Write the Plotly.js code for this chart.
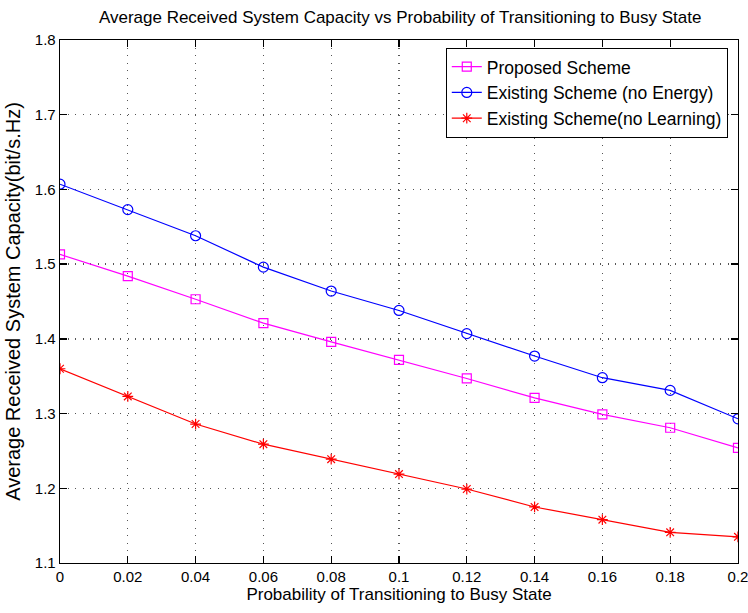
<!DOCTYPE html>
<html>
<head>
<meta charset="utf-8">
<script src="https://cdn.plot.ly/plotly-3.0.1.min.js"></script>
<style>html,body{margin:0;padding:0;background:#fff;}#chart{width:748px;height:613px;}</style>
</head>
<body>
<div id="chart"></div>
<script>
var probability = [0, 0.02, 0.04, 0.06, 0.08, 0.1, 0.12, 0.14, 0.16, 0.18, 0.2];
var proposedScheme = [1.513, 1.484, 1.453, 1.421, 1.396, 1.372, 1.347, 1.321, 1.299, 1.281, 1.254];
var existingNoEnergy = [1.607, 1.573, 1.538, 1.496, 1.464, 1.438, 1.407, 1.377, 1.348, 1.331, 1.293];
var existingNoLearning = [1.360, 1.323, 1.286, 1.259, 1.239, 1.219, 1.199, 1.175, 1.158, 1.141, 1.135];
var xTickVals = [0, 0.02, 0.04, 0.06, 0.08, 0.1, 0.12, 0.14, 0.16, 0.18, 0.2];
var xTickText = ['0', '0.02', '0.04', '0.06', '0.08', '0.1', '0.12', '0.14', '0.16', '0.18', '0.2'];
var yTickVals = [1.1, 1.2, 1.3, 1.4, 1.5, 1.6, 1.7, 1.8];
var yTickText = ['1.1', '1.2', '1.3', '1.4', '1.5', '1.6', '1.7', '1.8'];

var narrow = '"Liberation Sans Narrow", "Arial Narrow", "Liberation Sans", Arial, sans-serif';
var regular = '"Liberation Sans", Arial, Helvetica, sans-serif';

var traces = [
  {x: probability, y: proposedScheme, name: 'Proposed Scheme', type: 'scatter', mode: 'lines+markers',
   line: {color: '#ff00ff', width: 1.2}, marker: {symbol: 'square-open', size: 9, color: '#ff00ff', line: {width: 1.2}}},
  {x: probability, y: existingNoEnergy, name: 'Existing Scheme (no Energy)', type: 'scatter', mode: 'lines+markers',
   line: {color: '#0000ff', width: 1.2}, marker: {symbol: 'circle-open', size: 10, color: '#0000ff', line: {width: 1.2}}},
  {x: probability, y: existingNoLearning, name: 'Existing Scheme(no Learning)', type: 'scatter', mode: 'lines+markers',
   line: {color: '#ff0000', width: 1.2}, marker: {symbol: 'asterisk-open', size: 9, color: '#ff0000', line: {width: 1.2, color: '#ff0000'}}}
];

var axisCommon = {
  showline: true, mirror: 'ticks', linecolor: '#000', linewidth: 1.3,
  ticks: 'inside', ticklen: 7, tickcolor: '#000', tickwidth: 1.3,
  showgrid: true, gridcolor: '#555', griddash: '1.3px,6.2px', gridwidth: 1.3,
  zeroline: false, ticklabeloverflow: 'allow',
  tickfont: {family: narrow, size: 15, color: '#000'}
};

var layout = {
  width: 748, height: 613,
  margin: {l: 60, r: 10, t: 40, b: 50},
  paper_bgcolor: '#fff', plot_bgcolor: '#fff',
  title: {text: 'Average Received System Capacity vs Probability of Transitioning to Busy State',
          font: {family: narrow, size: 17, color: '#000'}, x: 0.535, xanchor: 'center', y: 0.972, yanchor: 'middle'},
  xaxis: Object.assign({}, axisCommon, {
    range: [0, 0.20001], tickvals: xTickVals, ticktext: xTickText,
    title: {text: 'Probability of Transitioning to Busy State', font: {family: narrow, size: 17, color: '#000'}, standoff: 2}
  }),
  yaxis: Object.assign({}, axisCommon, {
    range: [1.1, 1.80001], tickvals: yTickVals, ticktext: yTickText,
    title: {text: 'Average Received System Capacity(bit/s.Hz)', font: {family: regular, size: 20, color: '#000'}, standoff: 8}
  }),
  legend: {x: 0.569, y: 0.985, xanchor: 'left', yanchor: 'top', bgcolor: '#fff', bordercolor: '#000', borderwidth: 1,
           font: {family: regular, size: 17.5, color: '#000'}, tracegroupgap: 0},
  showlegend: true
};

Plotly.newPlot('chart', traces, layout, {displayModeBar: false, staticPlot: true});
</script>
</body>
</html>
